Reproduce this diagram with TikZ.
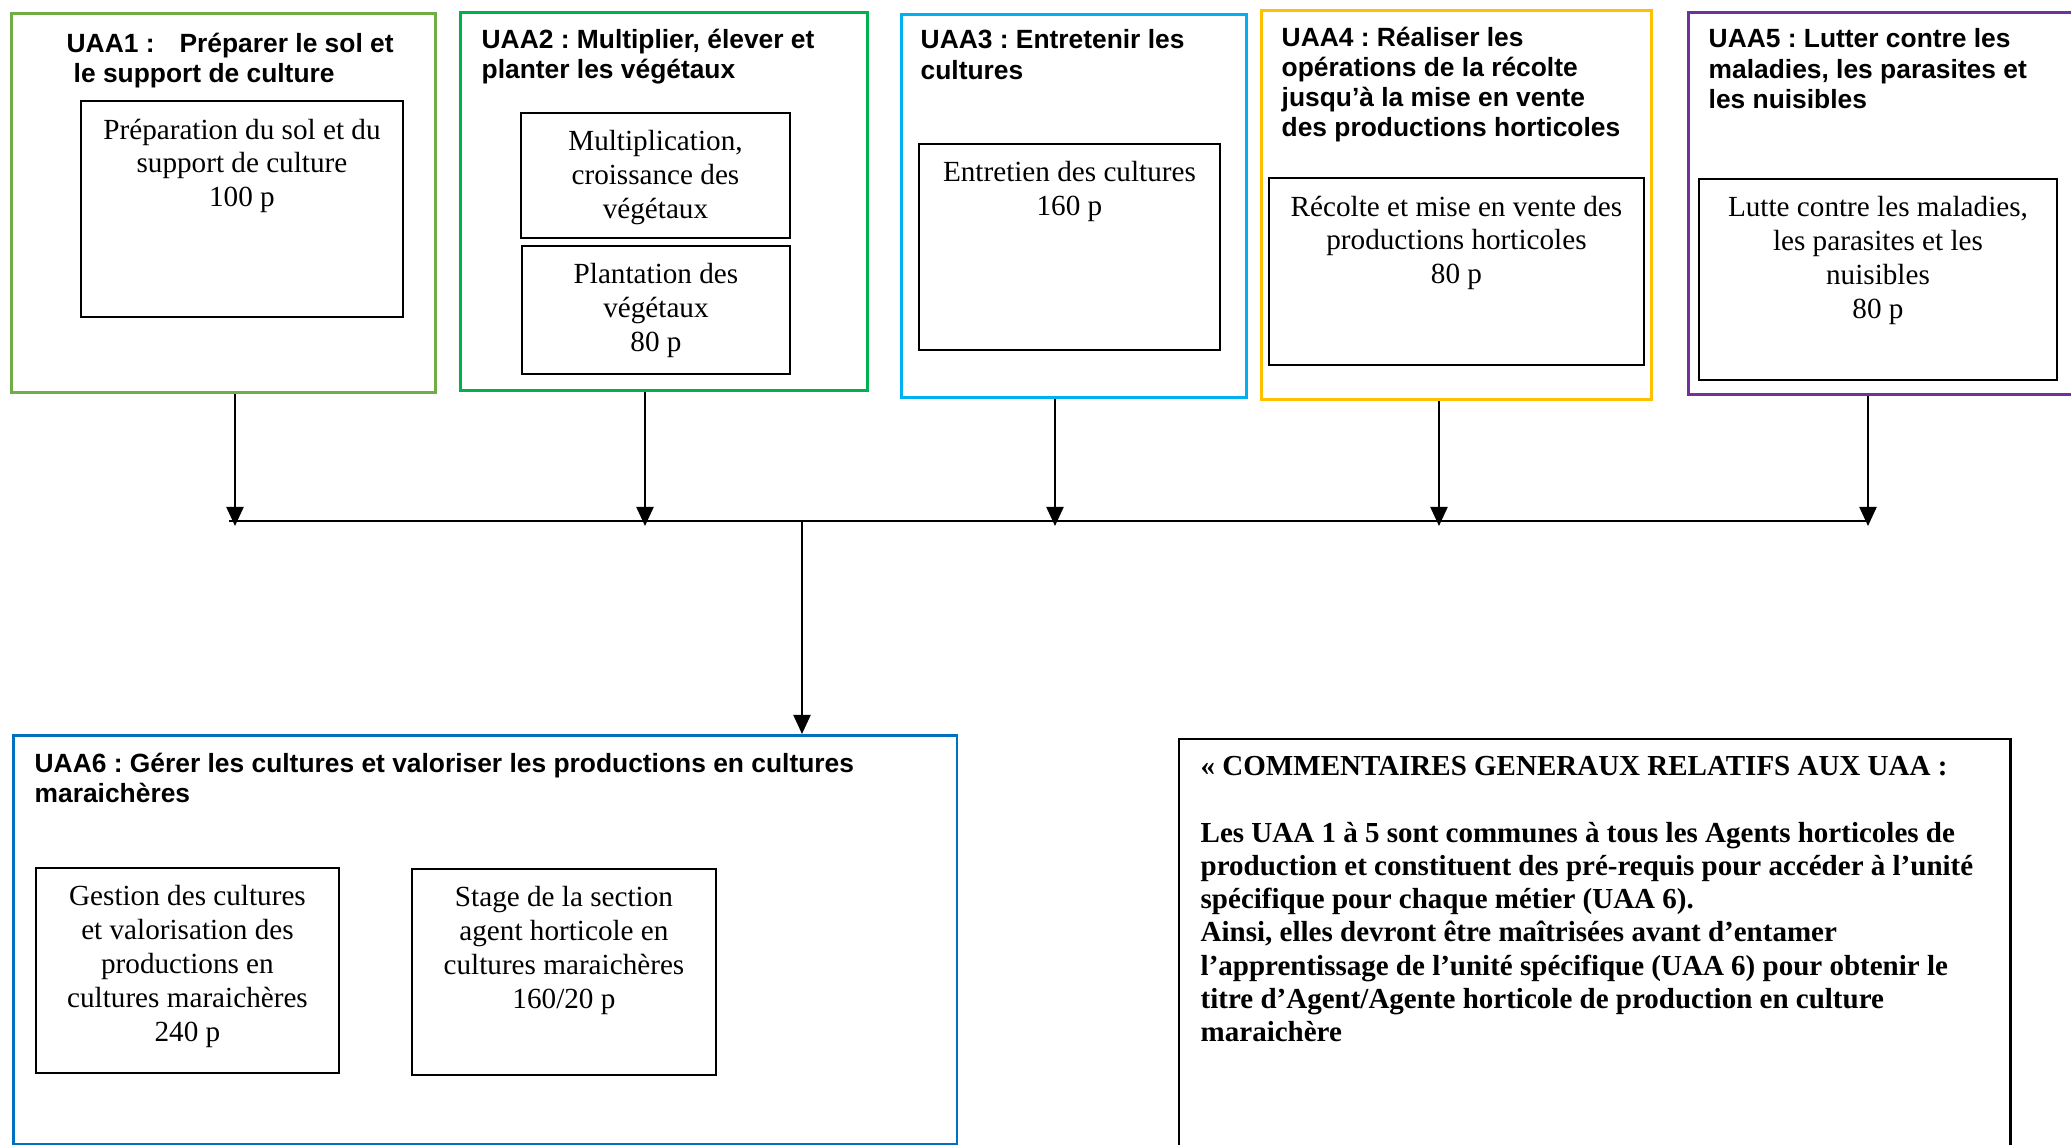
\documentclass[tikz,border=0pt]{standalone}
\usepackage{fontspec}
\setmainfont{Liberation Serif}
\setsansfont{Liberation Sans}
\usetikzlibrary{arrows.meta}
\frenchspacing

\definecolor{uaaone}{HTML}{70AD47}
\definecolor{uaatwo}{HTML}{00B050}
\definecolor{uaathree}{HTML}{00B0F0}
\definecolor{uaafour}{HTML}{FFC000}
\definecolor{uaafive}{HTML}{7030A0}
\definecolor{uaasix}{HTML}{0070C0}

\begin{document}
\begin{tikzpicture}[x=0.01cm, y=-0.01cm,
    unit/.style={draw, line width=0.8pt, anchor=north west, inner sep=0pt},
    part/.style={draw, line width=0.5pt, anchor=north west, inner sep=0pt},
    title/.style={anchor=north west, inner sep=0pt, align=left,
        font=\sffamily\bfseries\fontsize{7.5}{8.6}\selectfont},
    body/.style={anchor=north, inner sep=0pt, align=center,
        font=\fontsize{8.3}{9.6}\selectfont},
    arr/.style={line width=0.6pt, -{Triangle[length=1.9mm,width=1.7mm]}}]
    \path[use as bounding box, clip] (0,0) rectangle (2071,1145);

    % UAA1
    \node[unit, draw=uaaone, minimum width=4.24cm, minimum height=3.79cm] (u1) at (10,12) {};
    \node[title] (t1) at (66,32) {UAA1 :\hspace{0.25cm}Préparer le sol et\\\hspace*{0.07cm}le support de culture};
    \node[part, minimum width=3.22cm, minimum height=2.16cm] (i1) at (80,100) {};
    \node[body] (p1) at ([yshift=-0.18cm]i1.north) {Préparation du sol et du\\support de culture\\100 p};

    % UAA2
    \node[unit, draw=uaatwo, minimum width=4.07cm, minimum height=3.78cm] (u2) at (459,11) {};
    \node[title] (t2) at (481,28) {UAA2 : Multiplier, élever et\\planter les végétaux};
    \node[part, minimum width=2.69cm, minimum height=1.25cm] (i2a) at (520,112) {};
    \node[body] (p2a) at ([yshift=-0.18cm]i2a.north) {Multiplication,\\croissance des\\végétaux};
    \node[part, minimum width=2.68cm, minimum height=1.28cm] (i2b) at (521,245) {};
    \node[body] (p2b) at ([yshift=-0.18cm]i2b.north) {Plantation des\\végétaux\\80 p};

    % UAA3
    \node[unit, draw=uaathree, minimum width=3.45cm, minimum height=3.83cm] (u3) at (900,13) {};
    \node[title] (t3) at (920,29) {UAA3 : Entretenir les\\cultures};
    \node[part, minimum width=3.01cm, minimum height=2.06cm] (i3) at (918,143) {};
    \node[body] (p3) at ([yshift=-0.18cm]i3.north) {Entretien des cultures\\160 p};

    % UAA4
    \node[unit, draw=uaafour, minimum width=3.90cm, minimum height=3.89cm] (u4) at (1260,9) {};
    \node[title] (t4) at (1281,26) {UAA4 : Réaliser les\\opérations de la récolte\\jusqu’à la mise en vente\\des productions horticoles};
    \node[part, minimum width=3.75cm, minimum height=1.87cm] (i4) at (1268,177) {};
    \node[body] (p4) at ([yshift=-0.18cm]i4.north) {Récolte et mise en vente des\\productions horticoles\\80 p};

    % UAA5
    \node[unit, draw=uaafive, minimum width=4.03cm, minimum height=3.82cm] (u5) at (1687,11) {};
    \node[title] (t5) at (1708,28) {UAA5 : Lutter contre les\\maladies, les parasites et\\les nuisibles};
    \node[part, minimum width=3.58cm, minimum height=2.01cm] (i5) at (1698,178) {};
    \node[body] (p5) at ([yshift=-0.18cm]i5.north) {Lutte contre les maladies,\\les parasites et les\\nuisibles\\80 p};

    % Bus between the five common units and UAA6
    \coordinate (bl) at (229,521);
    \coordinate (br) at (1868,521);
    \coordinate (bm) at (802,521);
    \foreach \x [count=\i] in {235,645,1055,1439,1868}
        \coordinate (a\i) at (\x,526);
    \draw[line width=0.6pt] (bl) -- (br);
    \foreach \i in {1,...,5}
        \draw[arr] (u\i.south -| a\i) -- (a\i);

    % UAA6
    \node[unit, draw=uaasix, minimum width=9.43cm, minimum height=4.09cm] (u6) at (12,734) {};
    \node[title] (t6) at (34,752) {UAA6 : Gérer les cultures et valoriser les productions en cultures\\maraichères};
    \node[part, minimum width=3.03cm, minimum height=2.05cm] (i6a) at (35,867) {};
    \node[body] (p6a) at ([yshift=-0.18cm]i6a.north) {Gestion des cultures\\et valorisation des\\productions en\\cultures maraichères\\240 p};
    \node[part, minimum width=3.04cm, minimum height=2.06cm] (i6b) at (411,868) {};
    \node[body] (p6b) at ([yshift=-0.18cm]i6b.north) {Stage de la section\\agent horticole en\\cultures maraichères\\160/20 p};
    \draw[arr] (bm) -- (u6.north -| bm);

    % Comments
    \node[draw, line width=0.6pt, anchor=north west, inner sep=0pt,
        minimum width=8.31cm, minimum height=4.3cm] (c) at (1178,738) {};
    \node[anchor=north west, inner sep=0pt, align=left,
        font=\bfseries\fontsize{8.25}{9.45}\selectfont] (ct) at (1200,756)
        {« COMMENTAIRES GENERAUX RELATIFS AUX UAA :\\[0.33cm]
        Les UAA 1 à 5 sont communes à tous les Agents horticoles de\\
        production et constituent des pré-requis pour accéder à l’unité\\
        spécifique pour chaque métier (UAA 6).\\
        Ainsi, elles devront être maîtrisées avant d’entamer\\
        l’apprentissage de l’unité spécifique (UAA 6) pour obtenir le\\
        titre d’Agent/Agente horticole de production en culture\\
        maraichère};
\end{tikzpicture}
\end{document}
